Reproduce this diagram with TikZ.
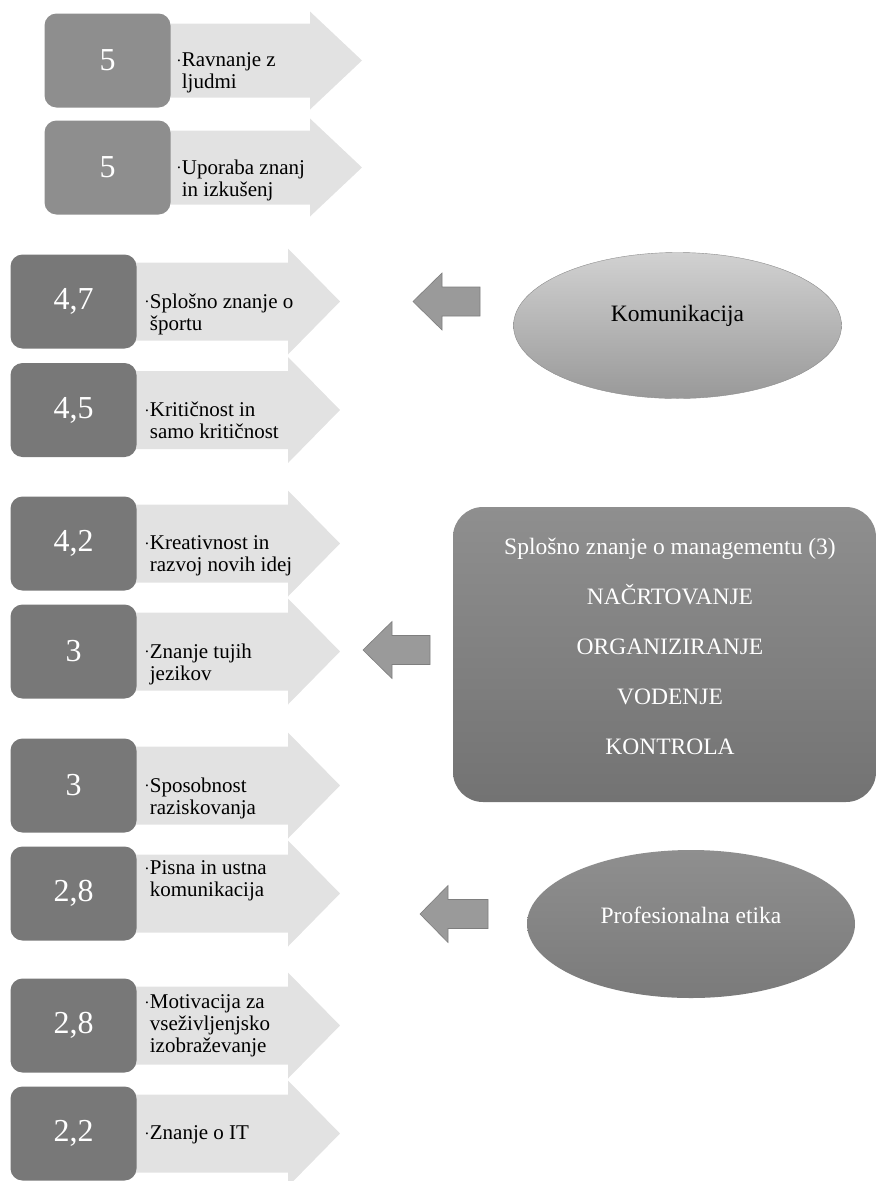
\documentclass[tikz,border=0pt]{standalone}
\usepackage{fontspec}
\setmainfont{Liberation Serif}
\usepackage{tikz}
\usetikzlibrary{shapes.geometric}

\definecolor{boxlight}{HTML}{8E8E8E}
\definecolor{boxdark}{HTML}{787878}
\definecolor{arrowlight}{HTML}{E2E2E2}
\definecolor{backgrey}{HTML}{9A9A9A}
\definecolor{backedge}{HTML}{7E7E7E}

\tikzset{
  valbox/.style={rounded corners=12pt, minimum width=126pt, minimum height=94pt,
    inner sep=0pt, text=white, font=\fontsize{32}{32}\selectfont},
  itemtext/.style={anchor=north west, align=left, inner sep=0pt,
    font=\fontsize{21}{22}\selectfont},
  bigtext/.style={inner sep=0pt, align=center, font=\fontsize{23.5}{50}\selectfont},
  backarrow/.style={fill=backgrey, draw=backedge, line width=0.6pt},
  bubble/.style={ellipse, minimum width=328pt, minimum height=146pt, inner sep=0pt}
}

% small bullet hanging left of the first line
\newcommand{\bul}{\leavevmode\llap{\raisebox{0.35ex}{\fontsize{8}{8}\selectfont\textbullet}\hspace{1.5pt}}}

% light arrow behind a value box: start x, centre y, head base x, tip x, half body, half head
\newcommand{\skillarrow}[6]{%
  \fill[arrowlight] (#1,#2-#5) -- (#3,#2-#5) -- (#3,#2-#6) -- (#4,#2)
    -- (#3,#2+#6) -- (#3,#2+#5) -- (#1,#2+#5) -- cycle;}

% small left arrow: tip x, centre y, head base x, end x
\newcommand{\backarrow}[4]{%
  \filldraw[backarrow] (#1,#2) -- (#3,#2-28.5) -- (#3,#2-14.5) -- (#4,#2-14.5)
    -- (#4,#2+14.5) -- (#3,#2+14.5) -- (#3,#2+28.5) -- cycle;}

\begin{document}
\begin{tikzpicture}[x=1pt, y=-1pt]
  \useasboundingbox (0,0) rectangle (876,1181);

  % arrows first, boxes on top
  \skillarrow{107.5}{60.5}{310}{362}{37}{49}
  \skillarrow{107.5}{167.5}{310}{362}{37}{49}
  \skillarrow{73.5}{301.5}{288}{340}{39}{53}
  \skillarrow{73.5}{410}{288}{340}{39}{53}
  \skillarrow{73.5}{543.5}{288}{340}{39}{53}
  \skillarrow{73.5}{651.5}{288}{340}{39}{53}
  \skillarrow{73.5}{785.5}{288}{340}{39}{53}
  \skillarrow{73.5}{893.5}{288}{340}{39}{53}
  \skillarrow{73.5}{1025.5}{288}{340}{39}{53}
  \skillarrow{73.5}{1133.5}{288}{340}{39}{53}

  \node[valbox, fill=boxlight] (v1) at (107.5,60.5) {5};
  \node[valbox, fill=boxlight] (v2) at (107.5,167.5) {5};
  \node[valbox, fill=boxdark] (v3) at (73.5,301.5) {4,7};
  \node[valbox, fill=boxdark] (v4) at (73.5,410) {4,5};
  \node[valbox, fill=boxdark] (v5) at (73.5,543.5) {4,2};
  \node[valbox, fill=boxdark] (v6) at (73.5,651.5) {3};
  \node[valbox, fill=boxdark] (v7) at (73.5,785.5) {3};
  \node[valbox, fill=boxdark] (v8) at (73.5,893.5) {2,8};
  \node[valbox, fill=boxdark] (v9) at (73.5,1025.5) {2,8};
  \node[valbox, fill=boxdark] (v10) at (73.5,1133.5) {2,2};

  \node[itemtext] (t1) at ([xshift=11pt,yshift=8pt]v1.east) {\bul Ravnanje z\\ljudmi};
  \node[itemtext] (t2) at ([xshift=11pt,yshift=8pt]v2.east) {\bul Uporaba znanj\\in izkušenj};
  \node[itemtext] (t3) at ([xshift=13pt,yshift=8pt]v3.east) {\bul Splošno znanje o\\športu};
  \node[itemtext] (t4) at ([xshift=13pt,yshift=8pt]v4.east) {\bul Kritičnost in\\samo kritičnost};
  \node[itemtext] (t5) at ([xshift=13pt,yshift=8pt]v5.east) {\bul Kreativnost in\\razvoj novih idej};
  \node[itemtext] (t6) at ([xshift=13pt,yshift=8pt]v6.east) {\bul Znanje tujih\\jezikov};
  \node[itemtext] (t7) at ([xshift=13pt,yshift=8pt]v7.east) {\bul Sposobnost\\raziskovanja};
  \node[itemtext] (t8) at ([xshift=13pt,yshift=33pt]v8.east) {\bul Pisna in ustna\\komunikacija};
  \node[itemtext] (t9) at ([xshift=13pt,yshift=31pt]v9.east) {\bul Motivacija za\\vseživljenjsko\\izobraževanje};
  \node[itemtext] (t10) at ([xshift=13pt,yshift=8pt]v10.east) {\bul Znanje o IT};

  % right column
  \node[bubble, top color=black!18, bottom color=black!40, draw=black!45] (komu) at (677.5,325.5) {};
  \node[bigtext] (komutext) at ([yshift=10pt]komu.center) {Komunikacija};
  \backarrow{413}{301.5}{442}{480}

  \node[rounded corners=30pt, minimum width=423pt, minimum height=295pt, inner sep=0pt,
    top color=black!44, bottom color=black!55] (mgmt) at (664.5,654.5) {};
  \node[bigtext, text=white] (mgmttext) at (670,646) {Splošno znanje o managementu (3)\\NAČRTOVANJE\\ORGANIZIRANJE\\VODENJE\\KONTROLA};
  \backarrow{363}{650}{392}{430}

  \node[bubble, minimum height=148pt, top color=black!44, bottom color=black!52] (etika) at (691,924) {};
  \node[bigtext, text=white] (etikatext) at ([yshift=9pt]etika.center) {Profesionalna etika};
  \backarrow{420}{914}{448}{488}
\end{tikzpicture}
\end{document}
